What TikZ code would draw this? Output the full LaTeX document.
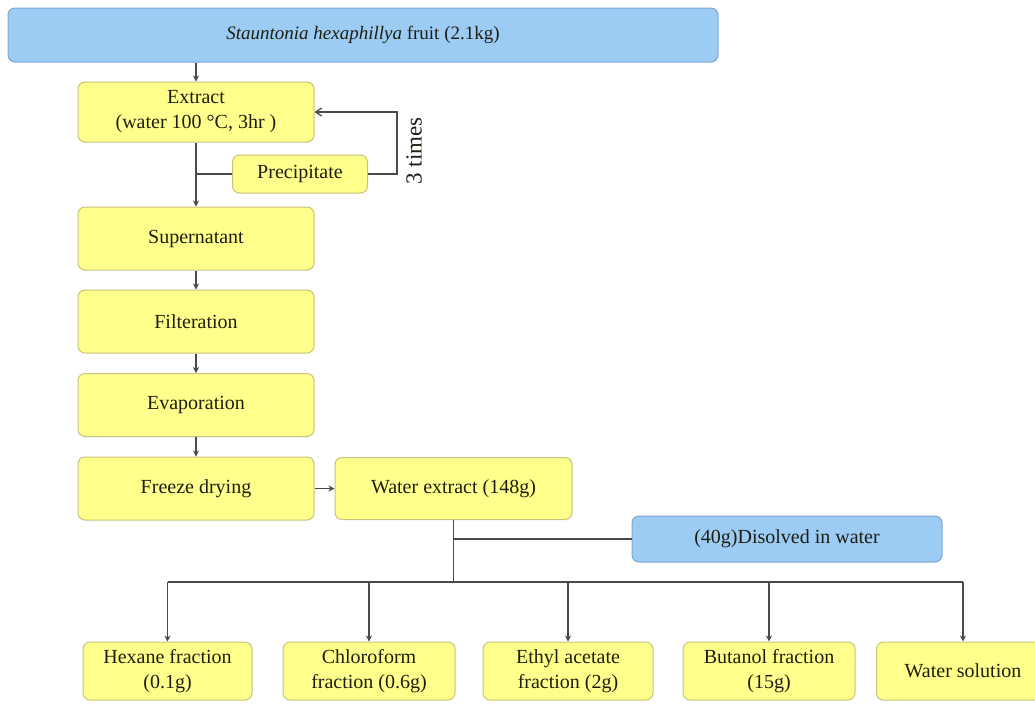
\documentclass[tikz,border=0pt]{standalone}
\usepackage{fontspec}
\setmainfont{Liberation Serif}
\usetikzlibrary{arrows.meta}
\definecolor{ybox}{HTML}{FFFF8C}
\definecolor{yedge}{HTML}{C8C27A}
\definecolor{bbox}{HTML}{9CCBF4}
\definecolor{bedge}{HTML}{7BA6D2}
\definecolor{lin}{HTML}{4A4A4A}
\definecolor{txt}{HTML}{1E1E10}
\begin{document}
\begin{tikzpicture}[x=1pt,y=-1pt,
  box/.style={draw=yedge, fill=ybox, line width=1pt, rounded corners=7pt, inner sep=0pt, align=center, text=txt, font=\fontsize{20}{25}\selectfont},
  bluebox/.style={box, draw=bedge, fill=bbox},
  con/.style={draw=lin, line width=1.3pt},
  arr/.style={con, -{Stealth[length=6pt,width=6pt]}}]
\useasboundingbox (0,0) rectangle (1035,705);
\clip (0,0) rectangle (1035,705);
\fill[white] (0,0) rectangle (1035,705);
% nodes
\node[bluebox, minimum width=710pt, minimum height=54pt, font=\fontsize{19}{23}\selectfont] (top) at (363,35) {\textit{Stauntonia hexaphillya} fruit (2.1kg)};
\node[box, minimum width=236pt, minimum height=60pt] (extract) at (196,112) {Extract\\(water 100 °C, 3hr )};
\node[box, minimum width=135pt, minimum height=38pt] (precip) at (300,174) {Precipitate};
\node[box, minimum width=236pt, minimum height=63pt] (super) at (196,238.5) {Supernatant};
\node[box, minimum width=236pt, minimum height=63pt] (filter) at (196,321.5) {Filteration};
\node[box, minimum width=236pt, minimum height=63pt] (evap) at (196,405) {Evaporation};
\node[box, minimum width=236pt, minimum height=63pt] (freeze) at (196,488.5) {Freeze drying};
\node[box, minimum width=237pt, minimum height=62pt] (wext) at (453.5,488.5) {Water extract (148g)};
\node[bluebox, minimum width=310pt, minimum height=46pt] (diss) at (787,539) {(40g)Disolved in water};
\node[box, minimum width=169pt, minimum height=58pt] (hex) at (167.5,671) {Hexane fraction\\(0.1g)};
\node[box, minimum width=172pt, minimum height=58pt] (chl) at (369,671) {Chloroform\\fraction (0.6g)};
\node[box, minimum width=170pt, minimum height=58pt] (eth) at (568,671) {Ethyl acetate\\fraction (2g)};
\node[box, minimum width=172pt, minimum height=58pt] (but) at (769,671) {Butanol fraction\\(15g)};
\node[box, minimum width=173pt, minimum height=58pt] (wat) at (963,671) {Water solution};
\node[rotate=90, text=txt, font=\fontsize{23}{27}\selectfont] (times) at (414,151) {3 times};
% connectors
\draw[arr] (top.south -| extract) -- (extract.north);
\coordinate (j1) at (extract.south |- precip.west);
\draw[con] (extract.south) -- (j1);
\draw[con] (j1) -- (precip.west);
\draw[arr] (j1) -- (super.north);
\coordinate (lp) at (397,0);
\draw[con, -{Straight Barb[length=6pt,width=8pt]}] (precip.east) -- (precip.east -| lp) -- (extract.east -| lp) -- (extract.east);
\draw[arr] (super.south) -- (filter.north);
\draw[arr] (filter.south) -- (evap.north);
\draw[arr] (evap.south) -- (freeze.north);
\draw[arr] (freeze.east) -- (wext.west);
\coordinate (bus) at (0,582);
\draw[con] (wext.south) -- (wext.south |- bus);
\draw[con] (wext.south |- diss.west) -- (diss.west);
\draw[con] (hex.north |- bus) -- (wat.north |- bus);
\foreach \n in {hex,chl,eth,but,wat} \draw[arr] (\n.north |- bus) -- (\n.north);
\end{tikzpicture}
\end{document}
